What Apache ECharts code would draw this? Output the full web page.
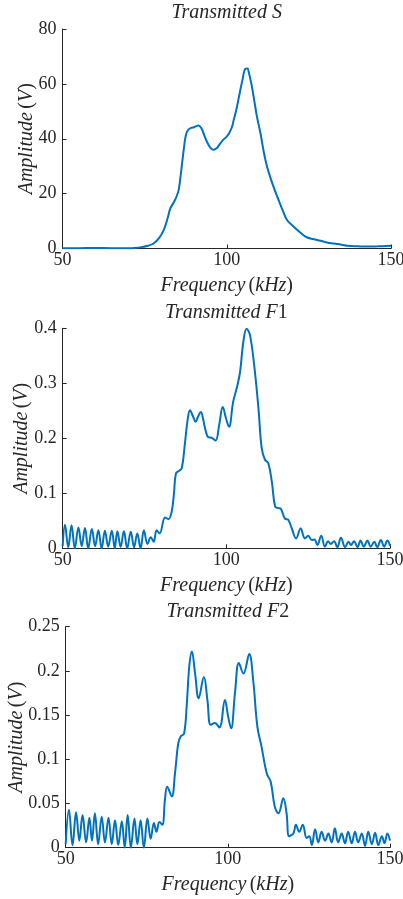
<!DOCTYPE html>
<html>
<head>
<meta charset="utf-8">
<script src="https://cdn.jsdelivr.net/npm/echarts/dist/echarts.min.js"></script>
<style>
html,body{margin:0;padding:0;background:#fff;}
#chart{width:403px;height:899px;}
</style>
</head>
<body>
<div id="chart"></div>
<script>
// ---- data ----
var titles = ['S', 'F', 'F'];
var titleSub = ['', '1', '2'];
var xTicks = [50, 100, 150];
var yMax = [80, 0.4, 0.25];
var yStep = [20, 0.1, 0.05];

var sFreq = [50, 55, 60, 65, 70, 72, 74, 76, 77.7, 79.5, 80.8, 82, 82.8, 84.3, 85.3, 85.8, 86.4, 86.9, 87.5, 88.1, 89.2, 90, 91.4, 92.3, 93, 94, 95, 96, 97, 97.6, 98.9, 100, 100.6, 101.5, 102.1, 103, 103.7, 104.7, 105.7, 106.3, 106.7, 107.5, 108.2, 109.2, 110.3, 111.3, 112.3, 113.8, 115.4, 117, 118.4, 120, 121.5, 123, 124.5, 126.5, 128.6, 130.5, 132.7, 135, 136.8, 140, 142.9, 146, 150];
var sAmp = [0.1, 0.1, 0.2, 0.1, 0.1, 0.2, 0.5, 1.0, 1.8, 4.0, 6.7, 11, 14.5, 17.8, 21, 25, 31, 36, 41, 43, 44, 44.2, 44.8, 43.8, 41.8, 38.8, 36.8, 36, 36.6, 37.6, 39.6, 40.8, 41.8, 44, 46.7, 51, 55.2, 61, 65.5, 65.6, 64.2, 60, 55.2, 48, 41.8, 35, 29.7, 24, 18.8, 14, 10.3, 8.4, 6.7, 5.2, 4, 3.4, 2.8, 2.2, 1.8, 1.4, 1.0, 0.8, 0.7, 0.8, 1.0];

var f1Freq = [50.0, 50.7, 51.7, 52.7, 53.7, 54.8, 55.8, 56.8, 57.8, 58.9, 59.9, 60.9, 61.9, 62.9, 63.9, 65.0, 65.9, 66.7, 67.7, 68.7, 69.7, 70.8, 71.8, 72.8, 73.8, 74.8, 75.9, 76.9, 77.8, 78.7, 79.6, 81.3, 82.3, 83.3, 84.0, 84.6, 85.6, 86.4, 87.4, 88.2, 88.9, 89.8, 90.6, 91.4, 92.2, 92.9, 93.5, 94.5, 95.5, 96.7, 97.8, 98.9, 99.9, 100.8, 102.1, 103.3, 104.2, 105.2, 106.2, 107.2, 108.5, 109.8, 110.8, 111.8, 112.8, 113.9, 114.9, 115.9, 116.6, 117.9, 118.9, 120.0, 121.3, 122.7, 124.0, 125.0, 126.1, 126.9, 127.8, 129.0, 130.1, 131.1, 131.9, 132.9, 133.9, 135.0, 136.3, 137.3, 138.1, 139.0, 140.1, 141.0, 142.0, 143.1, 144.1, 145.2, 146.1, 147.2, 148.2, 149.2, 150.0];
var f1Amp = [0.004, 0.043, 0.002, 0.042, 0.0, 0.038, 0.004, 0.037, 0.0, 0.035, 0.004, 0.033, 0.0, 0.032, 0.003, 0.032, 0.0, 0.031, 0.003, 0.031, 0.0, 0.030, 0.002, 0.027, 0.0, 0.033, 0.008, 0.020, 0.012, 0.033, 0.027, 0.056, 0.053, 0.067, 0.100, 0.136, 0.141, 0.146, 0.194, 0.235, 0.251, 0.240, 0.230, 0.240, 0.248, 0.235, 0.218, 0.202, 0.201, 0.196, 0.224, 0.257, 0.236, 0.221, 0.267, 0.294, 0.321, 0.376, 0.399, 0.388, 0.333, 0.255, 0.182, 0.161, 0.155, 0.121, 0.076, 0.073, 0.072, 0.054, 0.052, 0.036, 0.018, 0.036, 0.018, 0.023, 0.015, 0.016, 0.006, 0.023, 0.003, 0.013, 0.008, 0.013, 0.002, 0.019, 0.002, 0.012, 0.006, 0.013, 0.002, 0.014, 0.003, 0.014, 0.003, 0.012, 0.002, 0.015, 0.003, 0.014, 0.004];

var f2Freq = [50.0, 51.0, 52.1, 53.2, 54.2, 55.2, 56.3, 57.3, 58.1, 59.0, 60.0, 61.1, 62.1, 63.2, 64.2, 65.2, 66.2, 67.3, 68.2, 69.1, 70.1, 71.2, 72.1, 73.1, 74.1, 75.2, 76.2, 77.2, 78.0, 78.9, 79.8, 80.6, 81.3, 82.7, 83.7, 84.7, 85.5, 86.5, 87.3, 88.1, 88.9, 89.9, 91.0, 92.6, 93.7, 94.7, 96.0, 97.4, 99.1, 100.1, 101.0, 102.2, 103.4, 104.8, 106.6, 107.8, 109.1, 110.4, 111.5, 112.2, 113.2, 114.5, 115.6, 117.1, 118.1, 118.9, 120.2, 121.0, 122.0, 123.1, 124.3, 125.1, 125.9, 126.9, 127.9, 128.9, 130.0, 131.0, 132.0, 133.0, 134.0, 135.1, 136.1, 137.1, 138.2, 139.2, 140.2, 141.3, 142.3, 143.3, 144.4, 145.4, 146.4, 147.5, 148.3, 149.2, 150.0];
var f2Amp = [0.004, 0.043, 0.003, 0.040, 0.008, 0.037, 0.006, 0.034, 0.008, 0.039, 0.004, 0.035, 0.006, 0.034, 0.004, 0.031, 0.003, 0.030, 0.0, 0.037, 0.0, 0.033, 0.004, 0.031, 0.0, 0.033, 0.010, 0.028, 0.018, 0.029, 0.026, 0.054, 0.069, 0.058, 0.084, 0.118, 0.126, 0.129, 0.160, 0.205, 0.222, 0.197, 0.169, 0.193, 0.167, 0.139, 0.141, 0.136, 0.167, 0.148, 0.135, 0.175, 0.209, 0.197, 0.219, 0.190, 0.137, 0.114, 0.092, 0.082, 0.075, 0.046, 0.039, 0.056, 0.039, 0.013, 0.016, 0.026, 0.018, 0.026, 0.011, 0.013, 0.003, 0.021, 0.006, 0.018, 0.008, 0.016, 0.006, 0.022, 0.006, 0.016, 0.005, 0.018, 0.005, 0.018, 0.006, 0.016, 0.002, 0.018, 0.004, 0.017, 0.003, 0.013, 0.005, 0.016, 0.008];

// ---- build chart ----
function zip(a, b) { return a.map(function (v, i) { return [v, b[i]]; }); }
var seriesData = [zip(sFreq, sAmp), zip(f1Freq, f1Amp), zip(f2Freq, f2Amp)];

var FONT = 'Liberation Serif';
var INK = '#262626';
var grids = [
  {left: 62.5, right: 12, top: 29, height: 219.5, outerBoundsMode: 'none', containLabel: false},
  {left: 62.7, right: 13, top: 328.3, height: 220, outerBoundsMode: 'none', containLabel: false},
  {left: 65.7, right: 13, top: 626.7, height: 221, outerBoundsMode: 'none', containLabel: false}
];
var titleTops = [2.5, 302.5, 602];
var titleCenters = [226.7, 226.3, 227.8];
var yNameGaps = [25.5, 31, 39];

var richName = {
  i: {fontFamily: FONT, fontStyle: 'italic', fontWeight: 'normal', fontSize: 20, color: INK},
  n: {fontFamily: FONT, fontStyle: 'normal', fontWeight: 'normal', fontSize: 20, color: INK}
};

var option = {
  animation: false,
  backgroundColor: '#ffffff',
  title: titles.map(function (t, k) {
    return {
      text: '{i|Transmitted ' + t + '}' + (titleSub[k] ? '{n|' + titleSub[k] + '}' : ''),
      left: titleCenters[k],
      top: titleTops[k],
      textAlign: 'center',
      padding: 0,
      textStyle: {fontWeight: 'normal', rich: richName}
    };
  }),
  grid: grids,
  xAxis: grids.map(function (g, k) {
    return {
      type: 'value', gridIndex: k, min: xTicks[0], max: xTicks[2], interval: 50,
      axisLine: {show: true, lineStyle: {color: INK, width: 1}},
      axisTick: {show: true, inside: true, length: 4, lineStyle: {color: INK, width: 1}},
      splitLine: {show: false},
      axisLabel: {color: INK, fontFamily: FONT, fontSize: 18, margin: 3},
      name: '{i|Frequency} {n|(}{i|kHz}{n|)}',
      nameLocation: 'middle', nameGap: 27, nameMoveOverlap: false,
      nameTextStyle: {rich: richName}
    };
  }),
  yAxis: grids.map(function (g, k) {
    return {
      type: 'value', gridIndex: k, min: 0, max: yMax[k], interval: yStep[k],
      axisLine: {show: true, lineStyle: {color: INK, width: 1}},
      axisTick: {show: true, inside: true, length: 4, lineStyle: {color: INK, width: 1}},
      splitLine: {show: false},
      axisLabel: {color: INK, fontFamily: FONT, fontSize: 18, margin: 6},
      name: '{i|Amplitude} {n|(}{i|V}{n|)}',
      nameLocation: 'middle', nameGap: yNameGaps[k], nameMoveOverlap: false,
      nameTextStyle: {rich: richName}
    };
  }),
  series: seriesData.map(function (d, k) {
    return {
      type: 'line', xAxisIndex: k, yAxisIndex: k, data: d,
      showSymbol: false, smooth: 0.4,
      lineStyle: {color: '#0072BD', width: 2},
      itemStyle: {color: '#0072BD'}
    };
  })
};
var chart = echarts.init(document.getElementById('chart'), null, {renderer: 'canvas'});
chart.setOption(option);
</script>
</body>
</html>
